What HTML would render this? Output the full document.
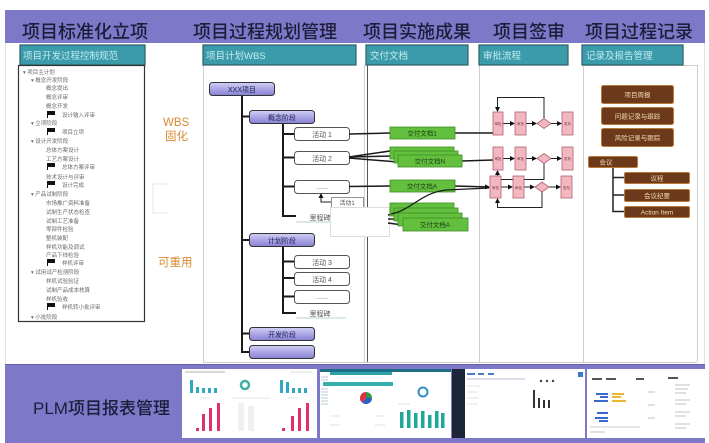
<!DOCTYPE html>
<html><head><meta charset="utf-8"><style>
html,body{margin:0;padding:0;background:#fff;}
svg{display:block;}
</style></head><body>
<svg width="709" height="443" viewBox="0 0 709 443" xmlns="http://www.w3.org/2000/svg" font-family="'Liberation Sans','Noto Sans CJK SC',sans-serif">
<defs>
<linearGradient id="pg" x1="0" y1="0" x2="0" y2="1"><stop offset="0" stop-color="#d2cff4"/><stop offset="1" stop-color="#8680d3"/></linearGradient>
<marker id="ar" markerWidth="5" markerHeight="5" refX="4" refY="2.5" orient="auto" markerUnits="userSpaceOnUse"><path d="M0,0 L5,2.5 L0,5 z" fill="#111"/></marker>
</defs>
<rect width="709" height="443" fill="#fff"/>
<!-- top band -->
<rect x="5" y="10" width="700" height="33" fill="#7d78c8"/>
<g font-size="18" fill="#1d1d3a" font-weight="500">
<text x="22" y="38">项目标准化立项</text>
<text x="193" y="38">项目过程规划管理</text>
<text x="363" y="38">项目实施成果</text>
<text x="493" y="38">项目签审</text>
<text x="585" y="38">项目过程记录</text>
</g>
<!-- faint page edge lines -->
<line x1="5.5" y1="43" x2="5.5" y2="365" stroke="#e2e2e2"/>
<line x1="704.5" y1="43" x2="704.5" y2="365" stroke="#e2e2e2"/>
<!-- column panels -->
<g stroke="#cfcfcf" stroke-width="1" fill="none">
<line x1="203.5" y1="65" x2="203.5" y2="362"/>
<line x1="364.5" y1="65" x2="364.5" y2="207"/>
<line x1="364.5" y1="237" x2="364.5" y2="362"/>
<line x1="479.5" y1="65" x2="479.5" y2="362"/>
<line x1="583.5" y1="65" x2="583.5" y2="362"/>
<line x1="697.5" y1="65" x2="697.5" y2="362"/>
<line x1="203" y1="362.5" x2="697" y2="362.5"/>
<line x1="583" y1="65.5" x2="697" y2="65.5"/>
</g>
<line x1="367.5" y1="65" x2="367.5" y2="207" stroke="#555"/>
<line x1="367.5" y1="237" x2="367.5" y2="362" stroke="#555"/>
<!-- teal headers -->
<g fill="#3b9bab" stroke="#2a5f68" stroke-width="1.2">
<rect x="20" y="45" width="125" height="20"/>
<rect x="203" y="45" width="153" height="20"/>
<rect x="366" y="45" width="102" height="20"/>
<rect x="479" y="45" width="89" height="20"/>
<rect x="582" y="45" width="101" height="20"/>
</g>
<g fill="#c6ecf0" font-size="9.5">
<text x="23" y="59">项目开发过程控制规范</text>
<text x="206" y="59">项目计划WBS</text>
<text x="370" y="59">交付文档</text>
<text x="483" y="59">审批流程</text>
<text x="586" y="59">记录及报告管理</text>
</g>
<!-- left tree panel -->
<rect x="18.5" y="65.5" width="126" height="256" fill="#fff" stroke="#333" stroke-width="1.2"/>
<g font-size="5.5" fill="#6a6a6a">
<text x="23" y="74">▾ 项目主计划</text>
<text x="31" y="82">▾ 概念开发阶段</text>
<text x="46" y="90">概念提出</text>
<text x="46" y="99">概念评审</text>
<text x="46" y="108">概念开发</text>
<text x="62" y="117">设计输入评审</text>
<text x="31" y="125">▾ 立项阶段</text>
<text x="62" y="134">项目立项</text>
<text x="31" y="143">▾ 设计开发阶段</text>
<text x="46" y="152">总体方案设计</text>
<text x="46" y="161">工艺方案设计</text>
<text x="62" y="169">总体方案评审</text>
<text x="46" y="179">技术设计与评审</text>
<text x="62" y="187">设计完成</text>
<text x="31" y="196">▾ 产品试制阶段</text>
<text x="46" y="205">市场推广资料准备</text>
<text x="46" y="214">试制生产状态检查</text>
<text x="46" y="223">试制工艺准备</text>
<text x="46" y="231">零部件检验</text>
<text x="46" y="240">整机装配</text>
<text x="46" y="249">样机功能及调试</text>
<text x="46" y="257">产品下线检验</text>
<text x="62" y="265">样机评审</text>
<text x="31" y="274">▾ 试用试产检测阶段</text>
<text x="46" y="283">样机试验验证</text>
<text x="46" y="292">试制产品成本核算</text>
<text x="46" y="301">样机验收</text>
<text x="62" y="309">样机转小批评审</text>
<text x="31" y="319">▾ 小批阶段</text>
</g>
<g fill="#111">
<path d="M47 111 h1 v7 h-1z M48 111 h7 v4 h-7z"/>
<path d="M47 128 h1 v7 h-1z M48 128 h7 v4 h-7z"/>
<path d="M47 163 h1 v7 h-1z M48 163 h7 v4 h-7z"/>
<path d="M47 181 h1 v7 h-1z M48 181 h7 v4 h-7z"/>
<path d="M47 259 h1 v7 h-1z M48 259 h7 v4 h-7z"/>
<path d="M47 303 h1 v7 h-1z M48 303 h7 v4 h-7z"/>
</g>
<!-- faint small box -->
<path d="M168 184 H153 V213 H168" fill="none" stroke="#e4e4e4"/>
<!-- side labels -->
<g fill="#d88a32" font-size="11.5">
<text x="163" y="126">WBS</text>
<text x="165" y="140">固化</text>
<text x="158" y="266">可重用</text>
</g>
<!-- WBS tree lines -->
<g stroke="#1a1a1a" stroke-width="2" fill="none">
<path d="M242 95 V352 H249"/>
<path d="M242 116.5 H249"/>
<path d="M242 240 H249"/>
<path d="M242 333.5 H249"/>
<path d="M283 123 V216 H296"/>
<path d="M283 134 H294 M283 157.5 H294 M283 186.5 H294"/>
<path d="M283 246 V313 H296"/>
<path d="M283 261.5 H294 M283 278 H294 M283 296.5 H294"/>
</g>
<!-- purple boxes -->
<g fill="url(#pg)" stroke="#333" stroke-width="1">
<rect x="209.5" y="82.5" width="65" height="13" rx="3"/>
<rect x="249.5" y="110.5" width="65" height="13" rx="3"/>
<rect x="249.5" y="233.5" width="65" height="13" rx="3"/>
<rect x="249.5" y="327.5" width="65" height="13" rx="3"/>
<rect x="249.5" y="345.5" width="65" height="13" rx="3"/>
</g>
<g font-size="7" fill="#1d1d55" text-anchor="middle">
<text x="242" y="92">XXX项目</text>
<text x="282" y="120">概念阶段</text>
<text x="282" y="243">计划阶段</text>
<text x="282" y="337">开发阶段</text>
</g>
<!-- activity boxes -->
<g fill="#fff" stroke="#555" stroke-width="1">
<rect x="294.5" y="127.5" width="55" height="13" rx="3"/>
<rect x="294.5" y="151.5" width="55" height="13" rx="3"/>
<rect x="294.5" y="180.5" width="55" height="13" rx="3"/>
<rect x="294.5" y="255.5" width="55" height="13" rx="3"/>
<rect x="294.5" y="272.5" width="55" height="13" rx="3"/>
<rect x="294.5" y="290.5" width="55" height="13" rx="3"/>
</g>
<g font-size="7" fill="#555" text-anchor="middle">
<text x="322" y="137">活动 1</text>
<text x="322" y="161">活动 2</text>
<text x="322" y="189">......</text>
<text x="322" y="265">活动 3</text>
<text x="322" y="282">活动 4</text>
<text x="322" y="299">......</text>
<text x="320" y="220">里程碑</text>
<text x="320" y="316">里程碑</text>
</g>
<line x1="296" y1="222" x2="346" y2="222" stroke="#b9d3d6"/>
<line x1="296" y1="318" x2="346" y2="318" stroke="#b9d3d6"/>
<!-- small 活动1 + overlay -->
<rect x="331.5" y="197.5" width="32" height="10" fill="#fff" stroke="#777" stroke-width="0.8"/>
<text x="347" y="205" font-size="6" fill="#555" text-anchor="middle">活动1</text>
<path d="M331 202 H321 V194" fill="none" stroke="#222" stroke-width="1" marker-end="url(#ar)"/>
<rect x="330.5" y="207.5" width="59" height="29" fill="#fff" stroke="#ddd"/>
<!-- connectors to green -->
<g stroke="#1a1a1a" stroke-width="1.5" fill="none">
<path d="M349 134 L390 133"/>
<path d="M455 133 L493 133"/>
<path d="M349 157 L390 151"/>
<path d="M349 157 L394 156"/>
<path d="M349 158 L398 162"/>
<path d="M462 161 L493 160"/>
<path d="M349 186.5 L390 186"/>
<path d="M388 215 L394 214 M388 219 L398 219 M388 223 L403 225"/>
</g>
<path d="M455 186 L489 187" stroke="#1a1a1a" stroke-width="1.5" fill="none" marker-end="url(#ar)"/>
<!-- green boxes -->
<g fill="#63c03f" stroke="#3c8c22" stroke-width="0.8">
<rect x="390" y="127" width="65" height="12"/>
<rect x="390" y="147" width="64" height="12"/>
<rect x="394" y="151" width="64" height="12"/>
<rect x="398" y="155" width="64" height="12"/>
<rect x="390" y="180" width="65" height="12"/>
<rect x="390" y="203" width="64" height="13"/>
<rect x="394" y="208" width="64" height="13"/>
<rect x="398" y="213" width="64" height="13"/>
<rect x="403" y="218" width="65" height="13"/>
</g>
<g font-size="6.5" fill="#1b3a10" text-anchor="middle">
<text x="422" y="135.5">交付文档1</text>
<text x="430" y="163.5">交付文档N</text>
<text x="422" y="188.5">交付文档A</text>
<text x="435" y="227">交付文档A</text>
</g>
<path d="M391 214 C 412 210, 420 193, 446 190 L 489 188" stroke="#1a1a1a" stroke-width="1.3" fill="none"/>
<!-- approval flow -->
<g stroke="#222" stroke-width="1" fill="none">
<path d="M544 118 V97.5 H497.5 V111" marker-end="url(#ar)"/>
<path d="M544 163 V179.5 H497.5 V171" marker-end="url(#ar)"/>
<path d="M542 192 V207.5 H497.5 V199" marker-end="url(#ar)"/>
<path d="M503 123.5 H514" marker-end="url(#ar)"/>
<path d="M526 123.5 H536" marker-end="url(#ar)"/>
<path d="M551 123.5 H561" marker-end="url(#ar)"/>
<path d="M503 158.5 H514" marker-end="url(#ar)"/>
<path d="M526 158.5 H536" marker-end="url(#ar)"/>
<path d="M551 158.5 H561" marker-end="url(#ar)"/>
<path d="M501 187 H512" marker-end="url(#ar)"/>
<path d="M524 187 H534" marker-end="url(#ar)"/>
<path d="M549 187 H560" marker-end="url(#ar)"/>
</g>
<g fill="#f3b7c0" stroke="#b0606e" stroke-width="0.8">
<rect x="493" y="112" width="10" height="23"/>
<rect x="515" y="112" width="11" height="23"/>
<polygon points="537,123.5 544,118.5 551,123.5 544,128.5"/>
<rect x="562" y="112" width="11" height="23"/>
<rect x="493" y="147" width="10" height="23"/>
<rect x="515" y="147" width="11" height="23"/>
<polygon points="537,158.5 544,153.5 551,158.5 544,163.5"/>
<rect x="562" y="147" width="11" height="23"/>
<rect x="490" y="176" width="11" height="22"/>
<rect x="513" y="176" width="11" height="22"/>
<polygon points="535,187 542,182 549,187 542,192"/>
<rect x="561" y="176" width="11" height="22"/>
</g>
<g font-size="3.5" fill="#7a3a44" text-anchor="middle">
<text x="498" y="125">审批</text><text x="520.5" y="125">审批</text><text x="567.5" y="125">发布</text>
<text x="498" y="160">审批</text><text x="520.5" y="160">审批</text><text x="567.5" y="160">发布</text>
<text x="495.5" y="189">审批</text><text x="518.5" y="189">审批</text><text x="566.5" y="189">发布</text>
</g>
<!-- record boxes -->
<path d="M613 167 V211.5 H624 M613 177.5 H624 M613 195 H624" stroke="#222" stroke-width="1.5" fill="none"/>
<g fill="#6c391b" stroke="#b87a3a" stroke-width="1">
<rect x="601.5" y="85.5" width="72" height="18" rx="2"/>
<rect x="601.5" y="107.5" width="72" height="17" rx="2"/>
<rect x="601.5" y="128.5" width="72" height="18" rx="2"/>
<rect x="588.5" y="156.5" width="49" height="11" rx="1.5"/>
<rect x="624.5" y="172.5" width="65" height="11" rx="1.5"/>
<rect x="624.5" y="189.5" width="65" height="12" rx="1.5"/>
<rect x="624.5" y="206.5" width="65" height="11" rx="1.5"/>
</g>
<g font-size="6.5" fill="#f3ddb2" text-anchor="middle">
<text x="637.5" y="97">项目周报</text>
<text x="637.5" y="118.5">问题记录与跟踪</text>
<text x="637.5" y="140">风险记录与跟踪</text>
<text x="606" y="164.5">会议</text>
<text x="657" y="180.5">议程</text>
<text x="657" y="198">会议纪要</text>
<text x="657" y="214.5">Action Item</text>
</g>
<!-- bottom band -->
<rect x="5" y="364" width="700" height="79" fill="#7d78c8"/>
<line x1="5" y1="364.5" x2="705" y2="364.5" stroke="#6660b0"/>
<text x="33" y="414" font-size="17" fill="#1d1d3a" font-weight="500">PLM项目报表管理</text>
<!-- screenshot 1 -->
<rect x="182" y="369" width="135" height="69" fill="#fff"/>
<line x1="185" y1="372" x2="225" y2="372" stroke="#999" stroke-width="0.8"/>
<line x1="290" y1="372" x2="312" y2="372" stroke="#bbb" stroke-width="0.6"/>
<g fill="#35a6c2">
<rect x="190" y="380" width="3" height="13"/><rect x="196" y="387" width="3" height="6"/><rect x="202" y="388" width="3" height="5"/><rect x="208" y="388" width="3" height="5"/><rect x="214" y="388" width="3" height="5"/>
<rect x="280" y="380" width="3" height="13"/><rect x="286" y="382" width="3" height="11"/><rect x="292" y="388" width="3" height="5"/><rect x="298" y="388" width="3" height="5"/><rect x="304" y="388" width="3" height="5"/>
</g>
<circle cx="245" cy="385" r="4" fill="none" stroke="#3fb0a0" stroke-width="2.5"/>
<g stroke="#ccc" stroke-width="0.6"><line x1="200" y1="398" x2="210" y2="398"/><line x1="232" y1="398" x2="270" y2="398"/><line x1="288" y1="398" x2="298" y2="398"/></g>
<g fill="#f0f0f0"><rect x="238" y="403" width="6" height="28"/><rect x="248" y="406" width="6" height="25"/></g>
<g fill="#e0306c">
<rect x="196" y="428" width="3" height="3"/><rect x="202" y="414" width="3" height="17"/><rect x="209" y="408" width="3" height="23"/><rect x="217" y="403" width="3" height="28"/>
<rect x="282" y="428" width="3" height="3"/><rect x="291" y="416" width="3" height="15"/><rect x="298" y="408" width="3" height="23"/><rect x="306" y="403" width="3" height="28"/>
</g>
<!-- screenshot 2 -->
<rect x="320" y="369" width="131" height="69" fill="#fff"/>
<rect x="320" y="369" width="131" height="3" fill="#1c6f84"/>
<rect x="330" y="372" width="62" height="3" fill="#2ea3a8"/>
<rect x="323" y="382" width="70" height="4" fill="#35b0ae"/>
<g stroke="#8ab" stroke-width="0.6"><line x1="321" y1="377" x2="328" y2="377"/><line x1="321" y1="380" x2="328" y2="380"/><line x1="321" y1="389" x2="328" y2="389"/><line x1="321" y1="392" x2="328" y2="392"/><line x1="321" y1="395" x2="328" y2="395"/><line x1="321" y1="398" x2="328" y2="398"/><line x1="321" y1="401" x2="328" y2="401"/><line x1="321" y1="404" x2="328" y2="404"/></g>
<path d="M366 398 L366 392 A6 6 0 0 1 372 398 Z" fill="#2a9a48"/>
<path d="M366 398 L372 398 A6 6 0 0 1 362 402.5 Z" fill="#2d5fc0"/>
<path d="M366 398 L362 402.5 A6 6 0 0 1 366 392 Z" fill="#e03040"/>
<circle cx="423" cy="392" r="4.5" fill="none" stroke="#3090c0" stroke-width="2"/>
<g stroke="#ccc" stroke-width="0.6"><line x1="330" y1="416" x2="340" y2="416"/><line x1="375" y1="416" x2="385" y2="416"/><line x1="330" y1="425" x2="340" y2="425"/><line x1="375" y1="425" x2="385" y2="425"/><line x1="398" y1="404" x2="410" y2="404"/></g>
<g fill="#1fa89a">
<rect x="400" y="412" width="3.5" height="16"/><rect x="407" y="410" width="3.5" height="18"/><rect x="414" y="413" width="3.5" height="15"/><rect x="421" y="411" width="3.5" height="17"/><rect x="428" y="415" width="3.5" height="13"/><rect x="435" y="411" width="3.5" height="17"/><rect x="441" y="413" width="3.5" height="15"/>
</g>
<!-- screenshot 3 -->
<rect x="452" y="369" width="133" height="69" fill="#fff"/>
<rect x="452" y="369" width="13" height="69" fill="#1d2639"/>
<g fill="#4a7ac8"><rect x="467" y="373" width="8" height="2"/><rect x="478" y="373" width="6" height="2"/><rect x="488" y="373" width="6" height="2"/></g>
<line x1="467" y1="379" x2="525" y2="379" stroke="#aac" stroke-width="0.8"/>
<g fill="#444"><circle cx="541" cy="381" r="1.2"/><circle cx="547" cy="381" r="1.2"/><circle cx="553" cy="381" r="1.2"/></g>
<g stroke="#ccc" stroke-width="0.6"><line x1="467" y1="386" x2="480" y2="386"/><line x1="467" y1="392" x2="478" y2="392"/><line x1="467" y1="398" x2="478" y2="398"/><line x1="467" y1="404" x2="478" y2="404"/></g>
<rect x="578" y="372" width="5" height="5" fill="#3a7ad0"/>
<g fill="#333"><rect x="533" y="390" width="2" height="18"/><rect x="538" y="398" width="2" height="10"/><rect x="543" y="400" width="2" height="8"/><rect x="548" y="400" width="2" height="8"/></g>
<!-- screenshot 4 -->
<rect x="587" y="369" width="118" height="69" fill="#fff"/>
<g fill="#555"><rect x="592" y="378" width="10" height="2"/><rect x="606" y="378" width="10" height="2"/><rect x="636" y="378" width="8" height="2"/><rect x="668" y="377" width="10" height="2"/></g>
<g fill="#3a6ad0"><rect x="596" y="393" width="12" height="2"/><rect x="600" y="396" width="8" height="2"/><rect x="594" y="400" width="14" height="2"/><rect x="597" y="412" width="11" height="2"/><rect x="595" y="417" width="13" height="2"/><rect x="599" y="420" width="9" height="2"/></g>
<g fill="#e8b830"><rect x="612" y="393" width="12" height="2"/><rect x="612" y="396" width="9" height="2"/><rect x="612" y="400" width="14" height="2"/></g>
<g stroke="#999" stroke-width="0.6"><line x1="675" y1="385" x2="690" y2="385"/><line x1="675" y1="389" x2="688" y2="389"/><line x1="675" y1="393" x2="686" y2="393"/><line x1="675" y1="400" x2="690" y2="400"/><line x1="675" y1="404" x2="686" y2="404"/><line x1="675" y1="412" x2="690" y2="412"/><line x1="675" y1="416" x2="686" y2="416"/><line x1="675" y1="424" x2="690" y2="424"/><line x1="675" y1="428" x2="686" y2="428"/><line x1="590" y1="427" x2="640" y2="427"/><line x1="590" y1="432" x2="605" y2="432"/><line x1="648" y1="392" x2="655" y2="392"/><line x1="648" y1="405" x2="655" y2="405"/><line x1="648" y1="418" x2="655" y2="418"/></g>
</svg>
</body></html>
